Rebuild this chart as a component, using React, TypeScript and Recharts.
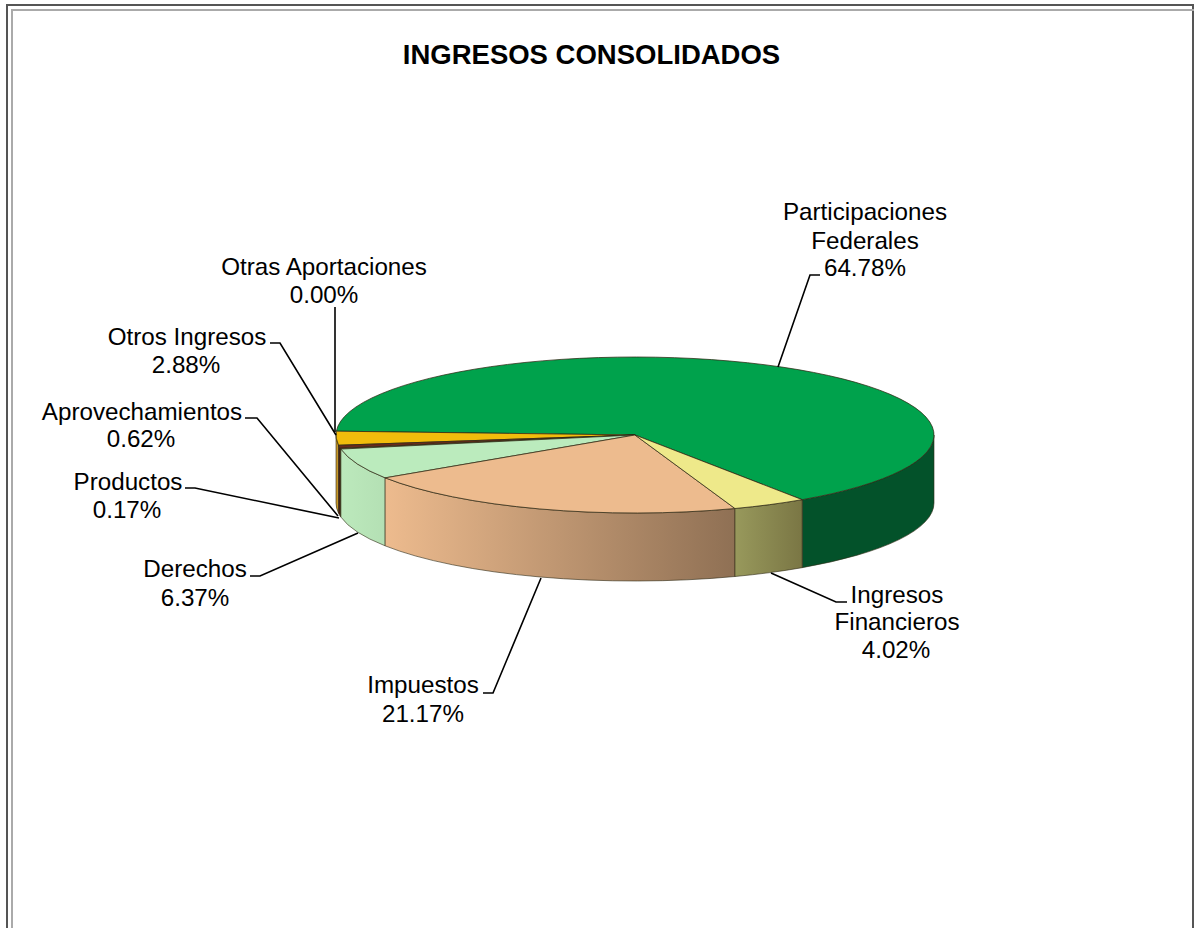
import { Pie, PieChart } from 'recharts';

const categories = [
  ['Participaciones', 'Federales'],
  ['Otras Aportaciones'],
  ['Otros Ingresos'],
  ['Aprovechamientos'],
  ['Productos'],
  ['Derechos'],
  ['Impuestos'],
  ['Ingresos', 'Financieros'],
];
const shares = [64.78, 0.0, 2.88, 0.62, 0.17, 6.37, 21.17, 4.02];
const topColors = ['#00A24C', '#C9A227', '#F2BC0C', '#6B2A1C', '#8A5A2B', '#BBEBBD', '#EDBB8E', '#EEE98A'];
const wallColors = [
  ['#03522A', '#03522A'],
  ['#A5841C', '#A5841C'],
  ['#C8982C', '#C8982C'],
  ['#4F2312', '#4F2312'],
  ['#6E4A22', '#6E4A22'],
  ['#BCE9BC', '#B4E0B4'],
  ['#EDBB8E', '#8F7054'],
  ['#98995C', '#7A7644'],
];

// label text anchors, one [x, y] per text line, and leader line points
const labelAnchors = [
  [[865, 211], [865, 240], [865, 267]],
  [[324, 266], [324, 294]],
  [[187, 336], [186, 364]],
  [[142, 411], [141, 438]],
  [[128, 481], [127, 509]],
  [[195, 568], [195, 597]],
  [[423, 684], [423, 713]],
  [[897, 594], [897, 621], [896, 649]],
];
const leaders = [
  [[778, 367], [810, 275], [820, 275]],
  [[335, 432], [335, 307]],
  [[336, 435], [280, 343], [270, 343]],
  [[338, 516], [257, 418], [245, 418]],
  [[339, 518], [195, 488], [185, 488]],
  [[358, 533], [260, 576], [250, 576]],
  [[541, 578], [493, 693], [483, 693]],
  [[771, 573], [836, 602], [847, 602]],
];

const CX = 635;
const CY = 435;
const RX = 299;
const RY = 78;
const DEPTH = 68;
const FONT = '"Liberation Sans", Arial, sans-serif';

const data = shares.map((value, i) => ({ name: categories[i].join(' '), value }));

function ellipsePoint(deg: number, dy = 0) {
  const a = (deg * Math.PI) / 180;
  return `${CX + RX * Math.cos(a)} ${CY - RY * Math.sin(a) + dy}`;
}

// top face: the sector squashed to an ellipse
function TopFace(props: any) {
  const { startAngle, endAngle, index } = props;
  if (endAngle - startAngle <= 0) return null;
  const large = endAngle - startAngle > 180 ? 1 : 0;
  const d = `M ${CX} ${CY} L ${ellipsePoint(startAngle)} A ${RX} ${RY} 0 ${large} 0 ${ellipsePoint(endAngle)} Z`;
  return <path d={d} fill={topColors[index]} stroke="#2f2a14" strokeOpacity={0.75} strokeWidth={1} />;
}

// side wall: only the part of the arc that faces the viewer
function Wall(props: any) {
  const { startAngle, endAngle, index } = props;
  for (const shift of [0, 360]) {
    const lo = Math.max(startAngle + shift, 180);
    const hi = Math.min(endAngle + shift, 360);
    if (hi > lo) {
      const d =
        `M ${ellipsePoint(lo)} A ${RX} ${RY} 0 0 0 ${ellipsePoint(hi)} ` +
        `L ${ellipsePoint(hi, DEPTH)} A ${RX} ${RY} 0 0 1 ${ellipsePoint(lo, DEPTH)} Z`;
      return <path d={d} fill={`url(#wall-${index})`} stroke="#2f2a14" strokeOpacity={0.6} strokeWidth={1} />;
    }
  }
  return null;
}

function SliceLabel(props: any) {
  const { index } = props;
  const lines = [...categories[index], `${shares[index].toFixed(2)}%`];
  return (
    <g>
      {lines.map((line, i) => (
        <text
          key={line}
          x={labelAnchors[index][i][0]}
          y={labelAnchors[index][i][1]}
          textAnchor="middle"
          dominantBaseline="central"
          fontFamily={FONT}
          fontSize={24.2}
          fill="#000"
        >
          {line}
        </text>
      ))}
    </g>
  );
}

function LeaderLine(props: any) {
  const pts = leaders[props.index].map((p) => p.join(',')).join(' ');
  return <polyline points={pts} fill="none" stroke="#000" strokeWidth={1.6} />;
}

export default function App() {
  return (
    <div style={{ position: 'absolute', left: 0, top: 0, width: 1194, height: 928, overflow: 'hidden', background: '#fff' }}>
      <div style={{ position: 'absolute', left: 6, top: 4, right: 0, height: 940, border: '2px solid #555', borderBottom: 'none', boxSizing: 'border-box' }} />
      <div style={{ position: 'absolute', left: 11, top: 9, right: 0, height: 940, border: '2px solid #aaa', borderBottom: 'none', borderRight: 'none', boxSizing: 'border-box' }} />
      <div
        style={{
          position: 'absolute',
          left: 0,
          width: 1183,
          top: 39,
          textAlign: 'center',
          fontFamily: FONT,
          fontWeight: 700,
          fontSize: 27.5,
          color: '#000',
        }}
      >
        INGRESOS CONSOLIDADOS
      </div>
      <div style={{ position: 'absolute', left: 0, top: 0 }}>
        <PieChart width={1194} height={928} margin={{ top: 0, right: 0, bottom: 0, left: 0 }}>
          <defs>
            {wallColors.map(([from, to], i) => (
              <linearGradient key={i} id={`wall-${i}`} x1="0" y1="0" x2="1" y2="0">
                <stop offset="0%" stopColor={from} />
                <stop offset="100%" stopColor={to} />
              </linearGradient>
            ))}
          </defs>
          <Pie
            data={data}
            dataKey="value"
            cx={CX}
            cy={CY}
            outerRadius={RX}
            startAngle={-56}
            endAngle={304}
            paddingAngle={0}
            shape={Wall}
            label={false}
            labelLine={false}
            isAnimationActive={false}
          />
          <Pie
            data={data}
            dataKey="value"
            cx={CX}
            cy={CY}
            outerRadius={RX}
            startAngle={-56}
            endAngle={304}
            paddingAngle={0}
            shape={TopFace}
            label={SliceLabel}
            labelLine={LeaderLine}
            isAnimationActive={false}
          />
        </PieChart>
      </div>
    </div>
  );
}
